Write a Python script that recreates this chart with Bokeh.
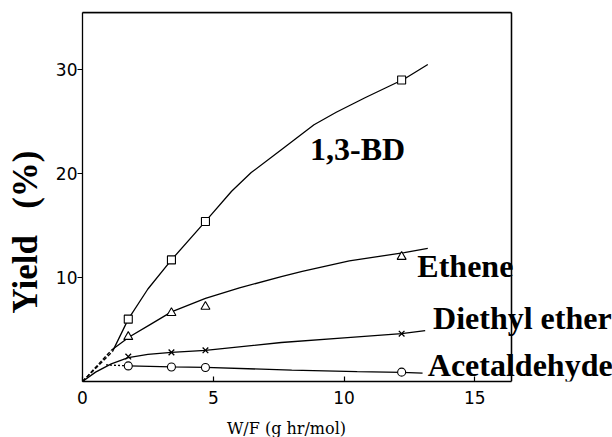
from bokeh.plotting import figure
from bokeh.models import Label, FixedTicker, Span, LinearAxis
from bokeh.embed import file_html
from bokeh.resources import INLINE

# Measured data points
x_pts = [1.75, 3.4, 4.7, 12.2]
bd_y = [6.0, 11.7, 15.4, 29.0]
ethene_y = [4.3, 6.6, 7.2, 12.0]
ether_y = [2.4, 2.8, 3.0, 4.6]
acet_y = [1.5, 1.4, 1.35, 0.9]

# Hand-drawn curves
bd_dash_x = [0.0, 1.15]
bd_dash_y = [0.0, 2.9]
bd_curve_x = [1.15, 1.75, 2.5, 3.4, 4.7, 5.7, 6.45, 7.6, 8.85, 9.7, 10.8, 12.3, 13.2]
bd_curve_y = [2.9, 6.0, 8.9, 11.7, 15.4, 18.3, 20.1, 22.3, 24.7, 25.9, 27.3, 29.1, 30.5]

eth_dash_x = [0.0, 1.1]
eth_dash_y = [0.0, 3.0]
eth_curve_x = [1.1, 1.8, 2.6, 3.4, 4.7, 6.0, 7.6, 8.4, 10.2, 12.3, 13.2]
eth_curve_y = [3.0, 4.3, 5.5, 6.7, 8.0, 9.0, 10.1, 10.6, 11.6, 12.4, 12.8]

ether_curve_x = [0.0, 0.5, 1.1, 1.75, 2.5, 3.4, 4.7, 7.6, 10.0, 12.2, 13.1]
ether_curve_y = [0.0, 0.9, 1.7, 2.3, 2.6, 2.8, 3.0, 3.75, 4.2, 4.6, 4.9]

acet_dot_x = [0.9, 1.75]
acet_dot_y = [1.6, 1.5]
acet_curve_x = [1.75, 3.4, 4.7, 8.0, 10.5, 12.2, 13.0]
acet_curve_y = [1.5, 1.4, 1.35, 1.1, 0.95, 0.88, 0.8]

labels = ["1,3-BD", "Ethene", "Diethyl ether", "Acetaldehyde"]
label_x = [8.7, 12.8, 13.4, 13.2]
label_y = [22.4, 11.1, 6.1, 1.6]

x_ticks = [0, 5, 10, 15]
y_ticks = [10, 20, 30]
x_max = 16.4
y_max = 35.5

# Frame extends past the plot box on the right so the curve labels are not clipped
px_per_x = 429 / x_max
frame_w = 530
frame_h = 369

p = figure(output_backend="svg", toolbar_location=None,
           frame_width=frame_w, frame_height=frame_h,
           min_border_left=82, min_border_top=12, min_border_right=0, min_border_bottom=56,
           x_range=(0, frame_w / px_per_x), y_range=(0, y_max))

p.background_fill_color = "white"
p.border_fill_color = "white"
p.outline_line_color = None
p.xgrid.visible = False
p.ygrid.visible = False

xa = p.below[0]
ya = p.left[0]

# top side of the plot box: an unlabeled axis above, bounded to the box
top_axis = LinearAxis(ticker=FixedTicker(ticks=[]), bounds=(0, x_max),
                      major_label_text_font_size="0px", major_tick_in=0, major_tick_out=0,
                      minor_tick_in=0, minor_tick_out=0,
                      axis_line_color="black", axis_line_width=1.3)
p.add_layout(top_axis, "above")
# right side of the plot box
p.add_layout(Span(location=x_max, dimension="height", line_color="black", line_width=1.3))
p.line([0, x_max, x_max], [y_max, y_max, 0], line_color="black", line_width=1.3)

lw = 1.3
p.line(bd_dash_x, bd_dash_y, line_color="black", line_width=lw, line_dash="4 2")
p.line(bd_curve_x, bd_curve_y, line_color="black", line_width=lw)
p.line(eth_dash_x, eth_dash_y, line_color="black", line_width=lw, line_dash="4 2")
p.line(eth_curve_x, eth_curve_y, line_color="black", line_width=lw)
p.line(ether_curve_x, ether_curve_y, line_color="black", line_width=lw)
p.line(acet_dot_x, acet_dot_y, line_color="black", line_width=lw, line_dash="2 2")
p.line(acet_curve_x, acet_curve_y, line_color="black", line_width=lw)

p.scatter(x_pts, bd_y, marker="square", size=8, fill_color="white", line_color="black", line_width=1.1)
p.scatter(x_pts, ethene_y, marker="triangle", size=9, fill_color="white", line_color="black", line_width=1.1)
p.scatter(x_pts, ether_y, marker="x", size=8, line_color="black", line_width=1.3)
p.scatter(x_pts, acet_y, marker="circle", size=8, fill_color="white", line_color="black", line_width=1.1)

for t, lx, ly in zip(labels, label_x, label_y):
    p.add_layout(Label(x=lx, y=ly, text=t, text_font="Liberation Serif", text_font_style="bold",
                       text_font_size="32px", text_color="black", text_baseline="alphabetic"))

for ax in (xa, ya):
    ax.axis_line_color = "black"
    ax.axis_line_width = 1.3
    ax.major_tick_line_color = "black"
    ax.major_tick_line_width = 1.2
    ax.minor_tick_line_color = None
    ax.major_label_text_font = "DejaVu Sans"
    ax.major_label_text_font_size = "17px"
    ax.major_label_text_color = "black"

xa.bounds = (0, x_max)
xa.ticker = FixedTicker(ticks=x_ticks)
ya.ticker = FixedTicker(ticks=y_ticks)
xa.major_tick_in = 5
xa.major_tick_out = 0
ya.major_tick_in = 0
ya.major_tick_out = 5
xa.major_label_standoff = 9
ya.major_label_standoff = 0

nb = "\u00a0"
xa.axis_label = "W/F (g hr/mol)" + nb * 24
xa.axis_label_text_font = "DejaVu Serif"
xa.axis_label_text_font_style = "normal"
xa.axis_label_text_font_size = "16px"
xa.axis_label_text_color = "black"
xa.axis_label_standoff = 12

ya.axis_label = "Yield" + nb * 3 + "(%)" + nb * 8
ya.axis_label_text_font = "Liberation Serif"
ya.axis_label_text_font_style = "bold"
ya.axis_label_text_font_size = "35px"
ya.axis_label_text_color = "black"
ya.axis_label_standoff = 8

open("out.html", "w").write(file_html(p, INLINE))
